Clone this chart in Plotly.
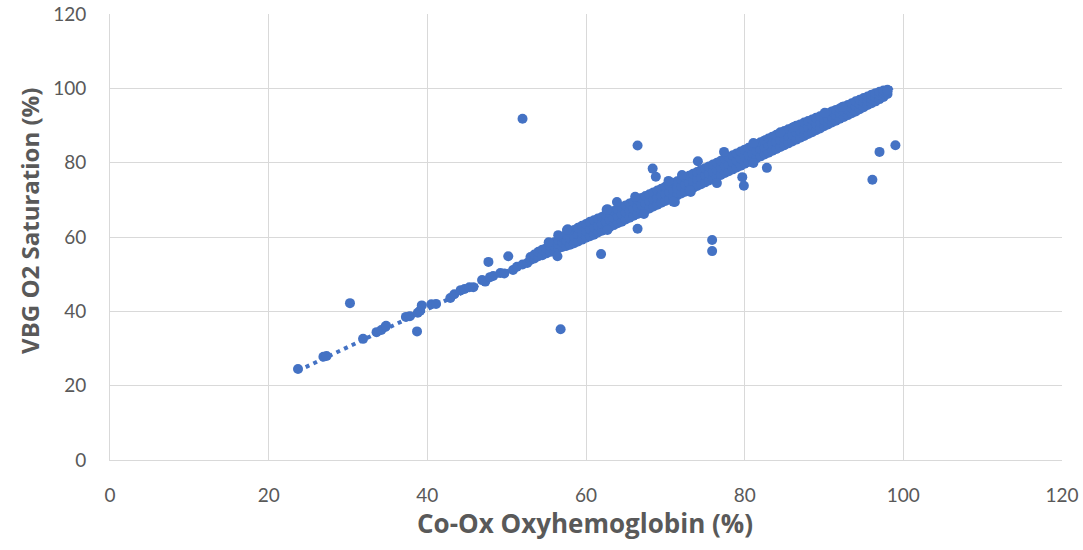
import plotly.graph_objects as go

# ---- data ----
# sparse lower part of the cloud
low_x = [23.7, 26.9, 27.3, 31.9, 33.6, 34.2, 34.7, 34.8, 37.3, 37.8, 38.8, 39.1, 39.3, 40.5, 41.1,
         42.9, 43.4, 44.2, 44.7, 45.3, 45.8, 46.9, 47.3, 47.9, 48.3, 49.2, 49.7, 50.8, 51.3, 52.0, 52.6]
low_y = [24.5, 27.8, 28.0, 32.6, 34.4, 35.0, 35.8, 36.1, 38.5, 38.7, 39.6, 40.2, 41.6, 41.9, 42.0,
         43.6, 44.6, 45.7, 46.0, 46.5, 46.5, 48.4, 48.0, 49.2, 49.5, 50.3, 50.2, 51.1, 52.0, 52.6, 53.0]

# dense band (lower edge, middle, upper edge of the cloud at each x)
band_x = [53.0, 53.0, 53.5, 53.5, 54.0, 54.0, 54.5, 54.5, 55.0, 55.0, 55.5, 55.5,
          56.0, 56.0, 56.0, 56.5, 56.5, 56.5, 57.0, 57.0, 57.0, 57.5, 57.5, 57.5,
          58.0, 58.0, 58.0, 58.5, 58.5, 58.5, 59.0, 59.0, 59.0, 59.5, 59.5, 59.5,
          60.0, 60.0, 60.0, 60.5, 60.5, 60.5, 61.0, 61.0, 61.0, 61.5, 61.5, 61.5,
          62.0, 62.0, 62.0, 62.5, 62.5, 62.5, 63.0, 63.0, 63.0, 63.5, 63.5, 63.5,
          64.0, 64.0, 64.0, 64.5, 64.5, 64.5, 65.0, 65.0, 65.0, 65.5, 65.5, 65.5,
          66.0, 66.0, 66.0, 66.5, 66.5, 66.5, 67.0, 67.0, 67.0, 67.5, 67.5, 67.5,
          68.0, 68.0, 68.0, 68.5, 68.5, 68.5, 69.0, 69.0, 69.0, 69.5, 69.5, 69.5,
          70.0, 70.0, 70.0, 70.5, 70.5, 70.5, 71.0, 71.0, 71.0, 71.5, 71.5, 71.5,
          72.0, 72.0, 72.0, 72.5, 72.5, 72.5, 73.0, 73.0, 73.0, 73.5, 73.5, 73.5,
          74.0, 74.0, 74.0, 74.5, 74.5, 74.5, 75.0, 75.0, 75.0, 75.5, 75.5, 75.5,
          76.0, 76.0, 76.0, 76.5, 76.5, 76.5, 77.0, 77.0, 77.0, 77.5, 77.5, 77.5,
          78.0, 78.0, 78.0, 78.5, 78.5, 78.5, 79.0, 79.0, 79.0, 79.5, 79.5, 79.5,
          80.0, 80.0, 80.0, 80.5, 80.5, 80.5, 81.0, 81.0, 81.0, 81.5, 81.5, 81.5,
          82.0, 82.0, 82.0, 82.5, 82.5, 82.5, 83.0, 83.0, 83.0, 83.5, 83.5, 83.5,
          84.0, 84.0, 84.0, 84.5, 84.5, 84.5, 85.0, 85.0, 85.0, 85.5, 85.5, 85.5,
          86.0, 86.0, 86.0, 86.5, 86.5, 86.5, 87.0, 87.0, 87.0, 87.5, 87.5, 87.5,
          88.0, 88.0, 88.0, 88.5, 88.5, 88.5, 89.0, 89.0, 89.0, 89.5, 89.5, 89.5,
          90.0, 90.0, 90.0, 90.5, 90.5, 90.5, 91.0, 91.0, 91.0, 91.5, 91.5, 91.5,
          92.0, 92.0, 92.0, 92.5, 92.5, 92.5, 93.0, 93.0, 93.0, 93.5, 93.5, 93.5,
          94.0, 94.0, 94.0, 94.5, 94.5, 94.5, 95.0, 95.0, 95.0, 95.5, 95.5, 95.5,
          96.0, 96.0, 96.0, 96.5, 96.5, 96.5, 97.0, 97.0, 97.0, 97.5, 97.5, 97.5,
          98.0, 98.0, 98.0]
band_y = [53.8, 54.6, 54.2, 55.3, 54.8, 56.0, 55.1, 56.6, 55.6, 57.0, 56.0, 57.6,
          56.4, 57.6, 58.6, 56.9, 58.2, 59.2, 57.3, 58.7, 60.0, 57.6, 59.1, 60.6,
          57.9, 59.6, 61.3, 58.3, 60.1, 61.9, 58.8, 60.7, 62.5, 59.3, 61.1, 63.0,
          59.8, 61.6, 63.5, 60.2, 62.1, 64.1, 60.6, 62.6, 64.5, 61.2, 63.1, 65.0,
          61.7, 63.6, 65.4, 62.1, 64.1, 66.0, 62.7, 64.6, 66.5, 63.2, 65.1, 67.0,
          63.7, 65.6, 67.5, 64.1, 66.1, 68.1, 64.7, 66.6, 68.5, 65.2, 67.1, 69.0,
          65.7, 67.6, 69.5, 66.2, 68.1, 70.1, 66.7, 68.6, 70.5, 67.2, 69.1, 71.0,
          67.7, 69.6, 71.5, 68.2, 70.1, 72.0, 68.7, 70.6, 72.5, 69.2, 71.1, 73.0,
          69.7, 71.6, 73.5, 70.2, 72.1, 74.0, 70.7, 72.6, 74.5, 71.2, 73.1, 75.0,
          71.7, 73.6, 75.5, 72.2, 74.1, 76.0, 72.7, 74.6, 76.5, 73.2, 75.1, 77.0,
          73.7, 75.6, 77.5, 74.2, 76.1, 78.0, 74.7, 76.6, 78.5, 75.2, 77.1, 79.0,
          75.7, 77.6, 79.5, 76.2, 78.1, 80.0, 76.7, 78.6, 80.5, 77.2, 79.1, 81.0,
          77.7, 79.6, 81.5, 78.2, 80.1, 82.0, 78.7, 80.6, 82.5, 79.2, 81.1, 83.0,
          79.7, 81.6, 83.5, 80.2, 82.1, 84.0, 80.7, 82.6, 84.5, 81.2, 83.1, 85.0,
          81.7, 83.6, 85.5, 82.2, 84.1, 86.0, 82.7, 84.6, 86.5, 83.2, 85.1, 87.0,
          83.7, 85.6, 87.5, 84.2, 86.1, 88.0, 84.7, 86.6, 88.5, 85.2, 87.1, 89.0,
          85.7, 87.6, 89.4, 86.2, 88.1, 89.9, 86.7, 88.6, 90.3, 87.2, 89.1, 90.8,
          87.7, 89.5, 91.2, 88.2, 90.0, 91.6, 88.7, 90.5, 92.1, 89.2, 91.0, 92.5,
          89.8, 91.4, 92.9, 90.3, 91.9, 93.3, 90.8, 92.3, 93.8, 91.3, 92.8, 94.2,
          91.8, 93.3, 94.6, 92.3, 93.8, 95.1, 92.8, 94.2, 95.5, 93.3, 94.7, 96.0,
          93.8, 95.2, 96.5, 94.4, 95.7, 96.9, 94.9, 96.2, 97.4, 95.5, 96.7, 97.8,
          96.0, 97.2, 98.3, 96.5, 97.7, 98.7, 97.1, 98.2, 99.1, 97.7, 98.6, 99.4,
          98.5, 99.2, 99.6]

# points sticking out of the band
edge_x = [55.3, 56.5, 57.7, 62.7, 63.9, 62.7, 67.3, 70.4, 71.2, 73.2, 74.1, 76.5, 77.4,
          81.1, 81.1, 84.5, 86.2, 90.1, 92.3, 66.2, 72.1, 73.1, 71.0, 62.6, 57.6]
edge_y = [58.6, 60.5, 62.1, 67.5, 69.4, 61.9, 66.2, 75.1, 69.4, 72.1, 80.4, 74.5, 82.9,
          85.3, 79.9, 88.2, 89.6, 93.4, 95.0, 70.8, 76.7, 72.6, 69.5, 67.3, 61.9]

# outliers
out_x = [30.25, 38.7, 47.7, 50.2, 52.0, 56.8, 56.4, 61.9, 66.5, 75.9, 75.9, 96.1, 97.0, 99.0,
         79.7, 79.9, 82.8, 66.5, 68.4, 68.8]
out_y = [42.2, 34.6, 53.3, 54.8, 91.8, 35.2, 54.8, 55.4, 62.2, 59.2, 56.2, 75.4, 82.9, 84.7,
         76.1, 73.8, 78.6, 84.6, 78.4, 76.2]

# linear trendline (dotted), end points
trend_x = [23.7, 99.0]
trend_y = [24.0, 100.5]

x_title = "Co-Ox Oxyhemoglobin (%)"
y_title = "VBG O2 Saturation (%)"
tick_vals = [0, 20, 40, 60, 80, 100, 120]

cox = low_x + band_x + edge_x + out_x
vbg = low_y + band_y + edge_y + out_y

BLUE = "#4472C4"
GREY = "#595959"
GRID = "#D9D9D9"
TICK_FONT = "Lato"
TITLE_FONT = "Open Sans"

fig = go.Figure()
fig.add_trace(go.Scatter(x=trend_x, y=trend_y, mode="lines",
                         line=dict(color=BLUE, width=4, dash="4px,4.5px"),
                         hoverinfo="skip", showlegend=False))
fig.add_trace(go.Scatter(x=cox, y=vbg, mode="markers",
                         marker=dict(color=BLUE, size=10, line=dict(width=0)),
                         showlegend=False))

axis_common = dict(range=[0, 120], tickvals=tick_vals, showgrid=True, gridcolor=GRID, gridwidth=1,
                   zeroline=False, showline=True, linecolor=GRID, linewidth=1,
                   automargin=False, tickcolor="rgba(0,0,0,0)", ticks="outside",
                   tickfont=dict(family=TICK_FONT, size=19, color=GREY))

fig.update_layout(
    width=1083, height=550,
    margin=dict(l=110, r=21, t=14, b=90),
    paper_bgcolor="white", plot_bgcolor="white",
    font=dict(family=TICK_FONT, color=GREY, size=18),
    xaxis=dict(axis_common, ticklen=18),
    yaxis=dict(axis_common, ticklen=19),
    annotations=[
        dict(text=f"<b>{x_title}</b>", xref="paper", yref="paper", x=0.4994, y=-0.141,
             xanchor="center", yanchor="middle", showarrow=False,
             font=dict(family=TITLE_FONT, size=26, color=GREY)),
        dict(text=f"<b>{y_title}</b>", xref="paper", yref="paper", x=-0.0841, y=0.536,
             xanchor="center", yanchor="middle", showarrow=False, textangle=-90,
             font=dict(family=TITLE_FONT, size=24, color=GREY)),
    ],
)

fig.write_html("out.html")
